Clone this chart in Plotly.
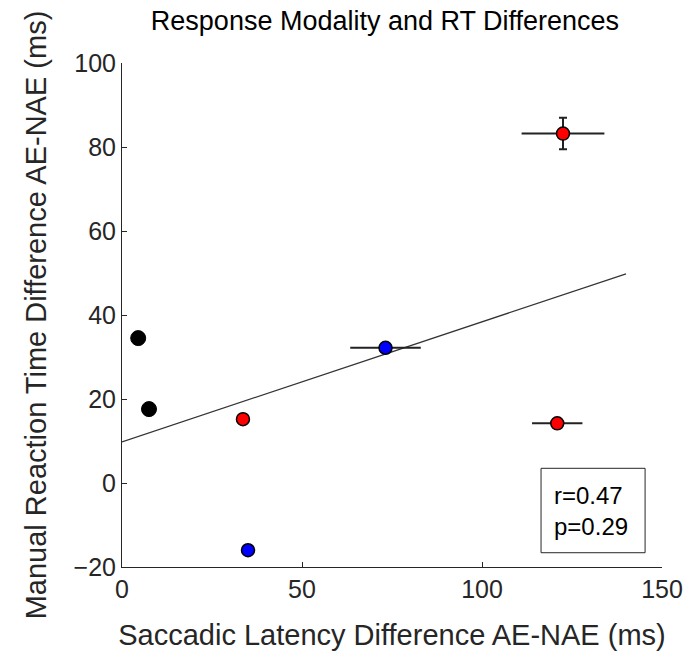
import plotly.graph_objects as go

# data
black_x = [4.5, 7.5]
black_y = [34.5, 17.6]
red_x = [33.6, 120.9, 122.5]
red_y = [15.2, 14.2, 83.2]
red_xerr = [0, 7.0, 11.5]
red_yerr = [0, 0, 3.75]
blue_x = [35.0, 73.2]
blue_y = [-16.0, 32.2]
blue_xerr = [0, 9.8]
blue_yerr = [0, 0]
fit_x = [0, 140]
fit_y = [9.8, 49.8]
stats_text = ["r=0.47", "p=0.29"]
box_x = [116.4, 145.3]
box_y = [-16.6, 3.5]

FONT = "Liberation Sans, Arial, Helvetica, sans-serif"
AX = "#262626"

fig = go.Figure()
fig.add_trace(go.Scatter(x=fit_x, y=fit_y, mode="lines",
                         line=dict(color="#333333", width=1.2), showlegend=False))
fig.add_trace(go.Scatter(x=black_x, y=black_y, mode="markers",
                         marker=dict(color="black", size=15, line=dict(color="black", width=1)),
                         showlegend=False))
fig.add_trace(go.Scatter(x=blue_x, y=blue_y, mode="markers",
                         error_x=dict(type="data", array=blue_xerr, color="#222222", thickness=2, width=0),
                         error_y=dict(type="data", array=blue_yerr, color="#222222", thickness=2, width=4),
                         marker=dict(color="#0000ff", size=13, line=dict(color="black", width=1.5)),
                         showlegend=False))
fig.add_trace(go.Scatter(x=red_x, y=red_y, mode="markers",
                         error_x=dict(type="data", array=red_xerr, color="#222222", thickness=2, width=0),
                         error_y=dict(type="data", array=red_yerr, color="#222222", thickness=2, width=4),
                         marker=dict(color="#ff0000", size=13, line=dict(color="black", width=1.5)),
                         showlegend=False))

fig.add_shape(type="rect", x0=box_x[0], x1=box_x[1], y0=box_y[0], y1=box_y[1],
              line=dict(color=AX, width=1), fillcolor="white", layer="above")
fig.add_annotation(x=box_x[0] + 3.0, y=(box_y[0] + box_y[1]) / 2,
                   text="<br>".join(stats_text), showarrow=False, xanchor="left",
                   yanchor="middle", align="left",
                   font=dict(family=FONT, size=24, color="black"))

fig.update_layout(
    width=685, height=658,
    margin=dict(l=122, r=23, t=63, b=91, autoexpand=False),
    paper_bgcolor="white", plot_bgcolor="white",
    font=dict(family=FONT, size=24, color=AX),
    title=dict(text="Response Modality and RT Differences", x=0.562, xanchor="center",
               y=0.969, yanchor="middle", font=dict(family=FONT, size=27, color="black"),
               automargin=False),
)
fig.update_xaxes(range=[0, 150], tickvals=[0, 50, 100, 150], showline=True, linecolor=AX,
                 linewidth=1, ticks="inside", ticklen=5, tickcolor=AX, showgrid=False,
                 zeroline=False, tickfont=dict(size=25, color=AX), automargin=False,
                 ticklabeloverflow="allow",
                 title=dict(text="Saccadic Latency Difference AE-NAE (ms)", standoff=22,
                            font=dict(size=29, color=AX)))
fig.update_yaxes(range=[-20, 100], tickvals=[-20, 0, 20, 40, 60, 80, 100], showline=True,
                 linecolor=AX, linewidth=1, ticks="inside", ticklen=5, tickcolor=AX,
                 showgrid=False, zeroline=False, tickfont=dict(size=25, color=AX),
                 automargin=False, ticklabeloverflow="allow",
                 title=dict(text="Manual Reaction Time Difference AE-NAE (ms)", standoff=18,
                            font=dict(size=29, color=AX)))

fig.write_html("out.html", config={"displayModeBar": False},
               post_script="document.body.style.margin='0px';")
